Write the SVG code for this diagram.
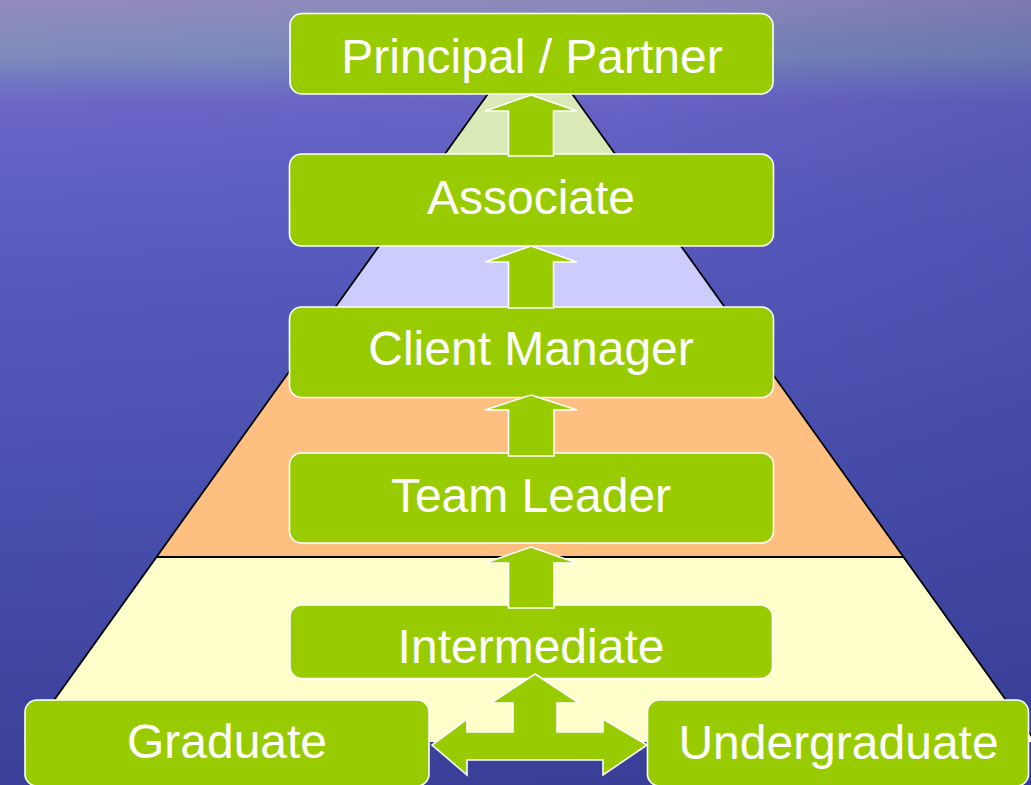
<svg xmlns="http://www.w3.org/2000/svg" width="1031" height="785" viewBox="0 0 1031 785">
  <defs>
    <linearGradient id="bgBase" x1="0" y1="0" x2="0" y2="1">
      <stop offset="0" stop-color="#8a84bc"/>
      <stop offset="0.07" stop-color="#7688bb"/>
      <stop offset="0.13" stop-color="#6a64c8"/>
      <stop offset="0.3" stop-color="#5a5cc0"/>
      <stop offset="0.6" stop-color="#4a50b0"/>
      <stop offset="1" stop-color="#3a4098"/>
    </linearGradient>
    <linearGradient id="bgShade" x1="0" y1="0" x2="1" y2="0">
      <stop offset="0" stop-color="#2a2f80" stop-opacity="0"/>
      <stop offset="0.6" stop-color="#2a2f80" stop-opacity="0.05"/>
      <stop offset="1" stop-color="#2a2f80" stop-opacity="0.22"/>
    </linearGradient>
    <linearGradient id="bgHaze" x1="0" y1="0" x2="0.3" y2="1">
      <stop offset="0" stop-color="#a8a2c0" stop-opacity="0.3"/>
      <stop offset="0.5" stop-color="#a8a2c0" stop-opacity="0.08"/>
      <stop offset="1" stop-color="#a8a2c0" stop-opacity="0"/>
    </linearGradient>
    <clipPath id="pyramidClip">
      <polygon points="530,35 1036,742 24,742"/>
    </clipPath>
    <style>
      .box { fill: #99cc00; stroke: #ffffff; stroke-width: 1.6; }
      .label { fill: #ffffff; font-family: "Liberation Sans", Arial, sans-serif; font-size: 48px; text-anchor: middle; }
      .arrow { fill: #99cc00; stroke: #ffffff; stroke-width: 1.6; stroke-linejoin: miter; }
      .edge { fill: none; stroke: #000000; stroke-width: 1.8; }
    </style>
  </defs>

  <!-- background -->
  <rect x="0" y="0" width="1031" height="785" fill="url(#bgBase)"/>
  <rect x="0" y="0" width="1031" height="785" fill="url(#bgShade)"/>
  <rect x="0" y="0" width="1031" height="130" fill="url(#bgHaze)"/>

  <!-- pyramid bands -->
  <g id="pyramid">
    <g clip-path="url(#pyramidClip)">
      <rect x="0" y="30" width="1031" height="170" fill="#d9eab8"/>
      <rect x="0" y="200" width="1031" height="150" fill="#ccccff"/>
      <rect x="0" y="350" width="1031" height="207" fill="#ffbf80"/>
      <rect x="0" y="557" width="1031" height="190" fill="#ffffcc"/>
    </g>
    <line class="edge" x1="412" y1="200" x2="648" y2="200"/>
    <line class="edge" x1="305" y1="350" x2="755" y2="350"/>
    <line class="edge" x1="156" y1="557" x2="904" y2="557"/>
    <polyline class="edge" points="27,738 530,35 1033,738"/>
  </g>

  <!-- level boxes -->
  <g id="node-principal">
    <rect class="box" x="290" y="13.5" width="483" height="80.5" rx="12"/>
    <text class="label" x="532" y="73">Principal / Partner</text>
  </g>
  <g id="node-associate">
    <rect class="box" x="289.5" y="154" width="484" height="92" rx="12"/>
    <text class="label" x="531" y="214">Associate</text>
  </g>
  <g id="node-client-manager">
    <rect class="box" x="289.5" y="307" width="484" height="90.5" rx="12"/>
    <text class="label" x="531" y="365">Client Manager</text>
  </g>
  <g id="node-team-leader">
    <rect class="box" x="289.5" y="453" width="484" height="90" rx="12"/>
    <text class="label" x="531" y="512">Team Leader</text>
  </g>
  <g id="node-intermediate">
    <rect class="box" x="290" y="605" width="482.5" height="73.5" rx="12"/>
    <text class="label" x="531" y="663">Intermediate</text>
  </g>
  <g id="node-graduate">
    <rect class="box" x="25" y="700" width="404" height="86" rx="12"/>
    <text class="label" x="227" y="758">Graduate</text>
  </g>
  <g id="node-undergraduate">
    <rect class="box" x="647.5" y="700" width="381" height="86" rx="12"/>
    <text class="label" x="838.5" y="759">Undergraduate</text>
  </g>

  <!-- promotion arrows -->
  <g id="connectors">
    <polygon class="arrow" points="531,95 577,111 553.5,111 553.5,156 508.5,156 508.5,111 485,111"/>
    <polygon class="arrow" points="531,246 577,262 553.5,262 553.5,308 508.5,308 508.5,262 485,262"/>
    <polygon class="arrow" points="531,395 577,410 554,410 554,456 508.5,456 508.5,410 485,410"/>
    <polygon class="arrow" points="531,547 577,563 554,563 554,608 508.5,608 508.5,563 485,563"/>
    <polygon class="arrow" points="535,674 579,703 557,703 557,732 603,732 603,719 647,745 603,775 603,760 467,760 467,775 432,745 467,719 467,732 513,732 513,703 491,703"/>
  </g>
</svg>
